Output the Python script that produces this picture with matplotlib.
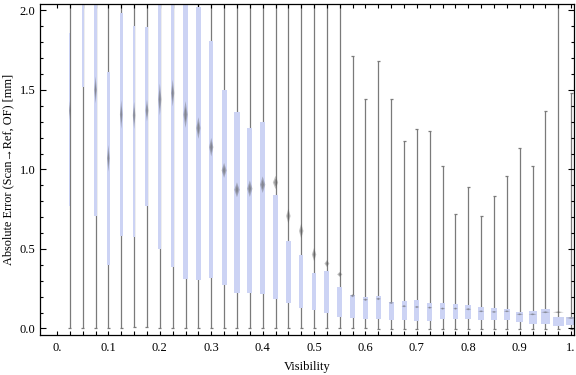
import numpy as np
import matplotlib.pyplot as plt

# box-whisker data (one box per visibility bin)
visibility = [0.025, 0.05, 0.075, 0.1, 0.125, 0.15, 0.175, 0.2, 0.225, 0.25,
              0.275, 0.3, 0.325, 0.35, 0.375, 0.4, 0.425, 0.45, 0.475, 0.5,
              0.525, 0.55, 0.575, 0.6, 0.625, 0.65, 0.675, 0.7, 0.725, 0.75,
              0.775, 0.8, 0.825, 0.85, 0.875, 0.9, 0.925, 0.95, 0.975, 1.0]

q1 = [0.77, 1.52, 0.71, 0.40, 0.58, 0.578, 0.772, 0.499, 0.385, 0.312,
      0.307, 0.316, 0.274, 0.226, 0.226, 0.217, 0.186, 0.163, 0.131, 0.117,
      0.100, 0.074, 0.064, 0.060, 0.060, 0.054, 0.054, 0.047, 0.047, 0.060,
      0.060, 0.060, 0.054, 0.054, 0.054, 0.041, 0.028, 0.028, 0.016, 0.022]

q3 = [1.86, 2.40, 2.30, 1.61, 1.985, 1.90, 1.897, 2.20, 2.20, 2.10,
      2.02, 1.81, 1.50, 1.364, 1.258, 1.30, 0.841, 0.547, 0.463, 0.348,
      0.362, 0.263, 0.211, 0.198, 0.205, 0.167, 0.173, 0.180, 0.161, 0.161,
      0.154, 0.148, 0.135, 0.129, 0.123, 0.104, 0.110, 0.123, 0.072, 0.072]

whisker_lo = [0.002, 0.002, 0.003, 0.005, 0.004, 0.011, 0.011, 0.004, 0.004, 0.006,
              0.006, 0.005, 0.005, 0.005, 0.005, 0.005, 0.005, 0.005, 0.005, 0.005,
              0.005, 0.005, 0.003, 0.002, -0.002, -0.002, -0.002, -0.002, -0.002, -0.002,
              -0.003, -0.002, -0.002, -0.002, -0.002, -0.003, -0.003, -0.003, -0.003, -0.003]

whisker_hi = [2.5, 2.5, 2.5, 2.5, 2.5, 2.5, 2.5, 2.5, 2.5, 2.5,
              2.5, 2.5, 2.5, 2.5, 2.5, 2.5, 2.5, 2.5, 2.5, 2.5,
              2.5, 2.5, 1.71, 1.44, 1.68, 1.44, 1.18, 1.255, 1.242, 1.024,
              0.719, 0.889, 0.704, 0.830, 0.961, 1.135, 1.022, 1.368, 2.5, 1.481]

mean = [1.37, 2.30, 1.50, 1.07, 1.345, 1.34, 1.37, 1.44, 1.48, 1.345,
        1.26, 1.14, 0.994, 0.872, 0.879, 0.904, 0.918, 0.707, 0.613, 0.465,
        0.408, 0.340, 0.206, 0.181, 0.186, 0.161, 0.140, 0.135, 0.131, 0.125,
        0.125, 0.121, 0.108, 0.104, 0.108, 0.089, 0.089, 0.102, 0.102, 0.066]

mean_ci = [0.06, 0.08, 0.085, 0.084, 0.09, 0.085, 0.068, 0.10, 0.084, 0.084,
           0.068, 0.058, 0.047, 0.047, 0.052, 0.052, 0.042, 0.047, 0.047, 0.042,
           0.022, 0.016, 0.010, 0.008, 0.008, 0.007, 0.007, 0.007, 0.007, 0.007,
           0.007, 0.007, 0.006, 0.006, 0.006, 0.006, 0.006, 0.006, 0.006, 0.006]

# box widths in pixels (they vary from bin to bin)
box_px = [1.3, 2.3, 2.7, 2.7, 2.7, 2.7, 3.0, 3.3, 3.3, 4.3,
          4.3, 4.3, 5.0, 5.3, 5.3, 5.3, 5.3, 4.5, 4.5, 4.5,
          5.0, 5.3, 4.7, 5.0, 5.0, 5.0, 5.0, 5.0, 5.0, 5.0,
          4.5, 6.0, 6.0, 6.0, 6.0, 7.0, 8.0, 9.0, 11.0, 10.0]

xticks = [0.0, 0.1, 0.2, 0.3, 0.4, 0.5, 0.6, 0.7, 0.8, 0.9, 1.0]
xticklabels = ["0.", "0.1", "0.2", "0.3", "0.4", "0.5", "0.6", "0.7", "0.8", "0.9", "1."]
yticks = [0.0, 0.5, 1.0, 1.5, 2.0]
yticklabels = ["0.0", "0.5", "1.0", "1.5", "2.0"]

plt.rcParams['font.family'] = ['Liberation Serif', 'DejaVu Serif']

fig = plt.figure(figsize=(5.76, 3.75), dpi=100)
ax = fig.add_axes([0.0686, 0.1067, 0.9279, 0.8826])

xlim = (-0.034, 1.0055)
ax.set_xlim(*xlim)
ax.set_ylim(-0.041, 2.04)

px = (xlim[1] - xlim[0]) / (0.9279 * 576)   # data units per pixel along x
x = np.array(visibility)
w = np.array(box_px) * px
cap = 3.0 * px

box_col = '#ccd3f4'
wh_col = '#7a7a7a'

# whiskers
ax.vlines(x, whisker_lo, whisker_hi, color=wh_col, lw=0.9, zorder=1)
ax.hlines(whisker_lo, x - cap / 2, x + cap / 2, color=wh_col, lw=0.9, zorder=1)
ax.hlines(whisker_hi, x - cap / 2, x + cap / 2, color=wh_col, lw=0.9, zorder=1)

# boxes
ax.bar(x, np.array(q3) - np.array(q1), bottom=q1, width=w, color=box_col,
       linewidth=0, zorder=2)

# mean diamonds (soft, like the smudged markers of the original)
for xi, wi, m, h in zip(x, w, mean, mean_ci):
    ax.fill([xi - wi / 2, xi, xi + wi / 2, xi], [m, m + h, m, m - h],
            color='#555555', alpha=0.35, lw=0, zorder=3)
    ax.fill([xi - wi / 4, xi, xi + wi / 4, xi], [m, m + h * 0.6, m, m - h * 0.6],
            color='#555555', alpha=0.4, lw=0, zorder=3)

ax.set_xticks(xticks)
ax.set_xticklabels(xticklabels)
ax.set_xticks(np.arange(0, 1.001, 0.025), minor=True)
ax.set_yticks(yticks)
ax.set_yticklabels(yticklabels)
ax.set_yticks(np.arange(0, 2.001, 0.1), minor=True)

ax.tick_params(which='both', direction='in', top=True, right=True,
               labelsize=9, width=0.8, colors='black')
ax.tick_params(axis='x', which='both', length=2.6, pad=5)
ax.tick_params(axis='y', which='major', length=4.3, pad=3)
ax.tick_params(axis='y', which='minor', length=2.4)

for s in ax.spines.values():
    s.set_linewidth(0.9)

ax.set_xlabel("Visibility", fontsize=9, labelpad=5)
ax.set_ylabel("Absolute Error (Scan\u2192Ref, OF) [mm]", fontsize=8.8, labelpad=4)

fig.savefig("out.png", dpi=100)
